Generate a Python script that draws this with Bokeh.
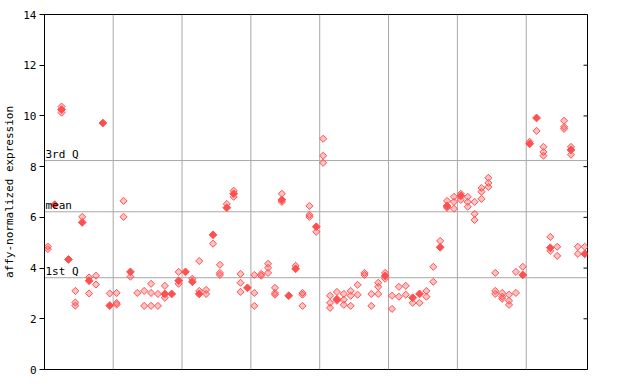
import math
from bokeh.plotting import figure
from bokeh.models import Range1d, LinearAxis, FixedTicker, Span, Label
from bokeh.embed import file_html
from bokeh.resources import INLINE

# ---- data ----
others = [
    [4.85, 4.75], [], [10.37, 10.13], [], [3.1, 2.64, 2.52],
    [6.02], [3.63, 3.0], [3.7, 3.35], [], [3.0],
    [3.02, 2.62, 2.56], [6.65, 6.02], [3.66], [3.02], [3.1, 2.51],
    [3.38, 3.02, 2.51], [2.98, 2.51], [3.3, 2.83], [], [3.85, 3.38],
    [], [3.58], [4.28, 3.1], [3.14, 2.98], [4.96],
    [4.13, 3.81, 3.73], [6.53], [7.05, 6.81], [3.77, 3.42, 3.06], [],
    [3.73, 3.02, 2.51], [3.77, 3.7], [4.17, 4.01, 3.81], [3.22, 3.02, 2.95], [6.93, 6.61],
    [], [4.09], [3.02, 2.95, 2.51], [6.45, 6.1, 6.02], [5.43],
    [9.1, 8.43, 8.15], [2.91, 2.63, 2.43], [3.06, 2.71], [2.98, 2.75, 2.55], [3.1, 2.91, 2.51],
    [3.34, 2.95], [3.81, 3.73], [2.98, 2.51], [3.42, 3.26, 2.98], [3.81, 3.58],
    [2.91, 2.39], [3.26, 2.87], [3.3, 2.95], [2.63], [2.63],
    [3.1, 2.87], [4.05, 3.46], [5.07], [6.65, 6.38], [6.81, 6.61, 6.34],
    [6.93, 6.69], [6.81, 6.61, 6.42], [6.61, 6.14, 5.9], [7.16, 7.01, 6.73], [7.56, 7.36, 7.2],
    [3.81, 3.1, 2.98], [3.02, 2.87, 2.79], [2.95, 2.71, 2.55], [3.85, 3.02], [4.05],
    [8.98], [9.41], [8.78, 8.58, 8.43], [5.23, 4.68], [4.84, 4.48],
    [9.81, 9.57, 9.49], [8.78, 8.47], [4.84, 4.56], [4.84],
]
highlight = [
    None, 6.5, 10.25, 4.34, None, 5.8, 3.5, None, 9.72, 2.52,
    None, None, 3.85, None, None, None, None, 2.98, 2.98, 3.5,
    3.85, 3.46, 2.98, None, 5.31, None, 6.38, 6.93, None, 3.22,
    None, None, None, None, 6.69, 2.91, 3.97, None, None, 5.63,
    None, None, 2.77, None, None, None, None, None, None, 3.69,
    None, None, None, 2.83, 2.98, None, None, 4.82, 6.45, None,
    6.85, None, None, None, None, None, None, None, None, 3.73,
    8.9, 9.92, None, 4.8, None, None, 8.66, None, 4.56,
]
group_bounds = [9.5, 19.5, 29.5, 39.5, 49.5, 59.5, 69.5]
q1_val, mean_val, q3_val = 3.62, 6.22, 8.24
y_ticks = [0, 2, 4, 6, 8, 10, 12, 14]

ox, oy = [], []
for i, vals in enumerate(others):
    for v in vals:
        ox.append(i)
        oy.append(v)
hx = [i for i, v in enumerate(highlight) if v is not None]
hy = [v for v in highlight if v is not None]

FONT = "DejaVu Sans Mono"
RED = "#FF5050"
GRID = "#A8A8A8"

W, H = 640, 384
ML, MR, MT, MB = 44, 53, 14, 15
x0, x1 = -0.48, 78.4
p = figure(width=W, height=H, output_backend="svg", toolbar_location=None,
           x_range=Range1d(x0, x1), y_range=Range1d(0, 14), x_axis_type=None,
           y_axis_location=None,
           min_border_left=ML, min_border_right=MR, min_border_top=MT, min_border_bottom=MB)
p.xgrid.visible = False
p.ygrid.visible = False
p.outline_line_color = "black"
p.outline_line_width = 1
p.background_fill_color = "white"
p.border_fill_color = "white"

yl = LinearAxis(ticker=FixedTicker(ticks=y_ticks), axis_label="affy-normalized expression")
yl.major_tick_out = 5
yl.major_tick_in = 0
yl.minor_tick_out = 0
yl.minor_tick_in = 0
yl.axis_line_color = "black"
yl.major_tick_line_color = "black"
yl.major_label_text_font = FONT
yl.major_label_text_font_size = "11px"
yl.major_label_text_color = "black"
yl.major_label_standoff = 3
yl.axis_label_text_font = FONT
yl.axis_label_text_font_size = "11px"
yl.axis_label_text_font_style = "normal"
yl.axis_label_text_color = "black"
yl.axis_label_standoff = 4
p.add_layout(yl, "left")

# inward tick marks on the right frame edge (4 px long)
tick_len = 4 * (x1 - x0) / (W - ML - MR)
p.segment(x0=[x1 - tick_len] * len(y_ticks), y0=y_ticks, x1=[x1] * len(y_ticks), y1=y_ticks,
          line_color="black", line_width=1)

for b in group_bounds:
    p.add_layout(Span(location=b, dimension="height", line_color=GRID, line_width=1, level="underlay"))
for v in (q1_val, mean_val, q3_val):
    p.add_layout(Span(location=v, dimension="width", line_color=GRID, line_width=1, level="underlay"))

for txt, v in (("3rd Q", q3_val), ("mean", mean_val), ("1st Q", q1_val)):
    p.add_layout(Label(x=x0, y=v, text=txt, x_offset=1, y_offset=0, text_baseline="bottom",
                       text_font=FONT, text_font_size="11px", text_color="black"))

p.scatter(x=ox, y=oy, marker="square", angle=math.pi / 4, size=5, fill_color=RED, fill_alpha=0.35,
          line_color=RED, line_width=1)
p.scatter(x=hx, y=hy, marker="square", angle=math.pi / 4, size=5.5, fill_color=RED, fill_alpha=1.0,
          line_color=RED, line_width=1)

open("out.html", "w").write(file_html(p, INLINE))
